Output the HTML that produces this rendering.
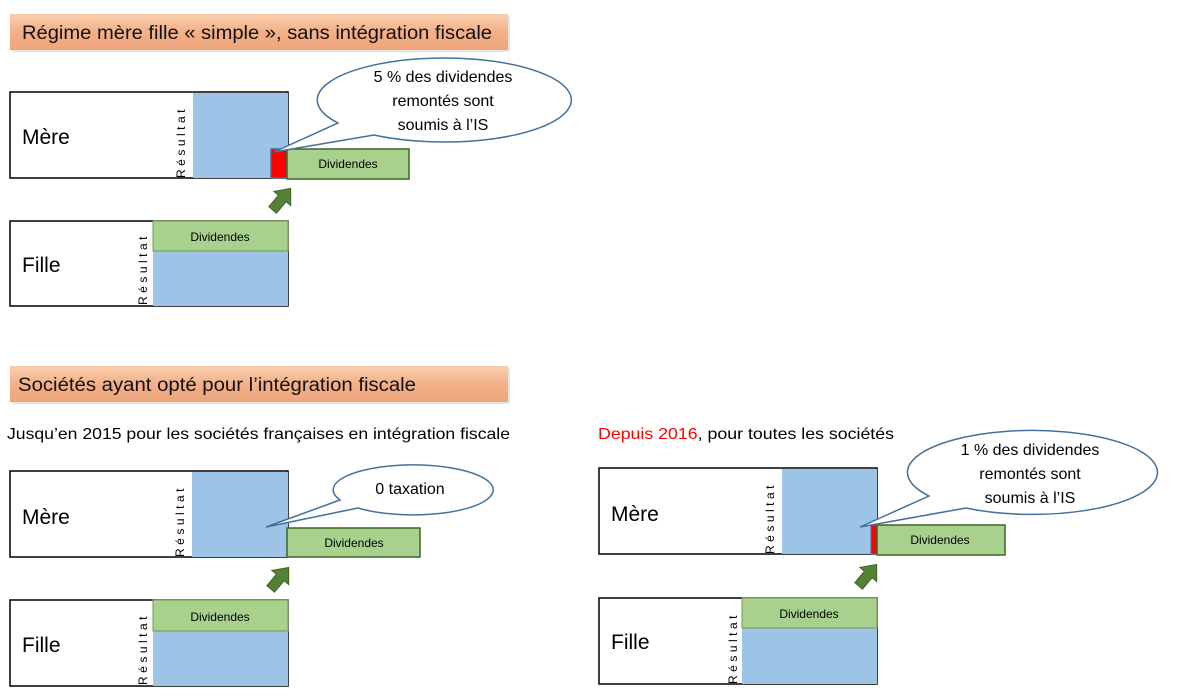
<!DOCTYPE html>
<html><head><meta charset="utf-8"><style>
html,body{margin:0;padding:0;background:#fff;}
svg{display:block;}
text{font-family:"Liberation Sans",sans-serif;}
</style></head><body>
<svg width="1200" height="699" viewBox="0 0 1200 699" xmlns="http://www.w3.org/2000/svg">
<defs>
<linearGradient id="bg" x1="0" y1="0" x2="0" y2="1">
<stop offset="0" stop-color="#f9cfae"/><stop offset="0.5" stop-color="#f3b088"/><stop offset="1" stop-color="#eea57c"/>
</linearGradient>
<g id="arrow">
<path d="M-5,13 L-5,-2 L-11,-2 L0,-15 L11,-2 L5,-2 L5,13 Z" fill="#548235" stroke="#3f6426" stroke-width="1"/>
</g>
</defs>

<!-- Section 1 -->
<rect x="12" y="16" width="498" height="36" fill="#ccc" opacity="0.5"/>
<rect x="10" y="14" width="498" height="36" fill="url(#bg)"/>
<text x="22" y="39" font-size="19" fill="#111" textLength="470" lengthAdjust="spacingAndGlyphs">Régime mère fille « simple », sans intégration fiscale</text>

<rect x="10" y="92" width="278" height="86" fill="#fff" stroke="#000" stroke-width="1.5"/>
<rect x="193" y="93" width="95" height="85" fill="#9dc3e6"/>
<text x="22" y="144" font-size="21">Mère</text>
<text transform="translate(185,178) rotate(-90)" font-size="12" letter-spacing="3.5">Résultat</text>
<rect x="271" y="149" width="16" height="29" fill="#f00" stroke="#41719c" stroke-width="1.5"/>
<rect x="287" y="149" width="122" height="30" fill="#a9d18e" stroke="#3f6426" stroke-width="1.5"/>
<text x="348" y="168" font-size="12" text-anchor="middle">Dividendes</text>
<use href="#arrow" transform="translate(281,200) rotate(40)"/>

<rect x="10" y="221" width="278" height="85" fill="#fff" stroke="#000" stroke-width="1.5"/>
<rect x="153" y="251" width="135" height="55" fill="#9dc3e6"/>
<rect x="153" y="221" width="135" height="30" fill="#a9d18e" stroke="#6e9b4f" stroke-width="1"/>
<text x="220" y="241" font-size="12" text-anchor="middle">Dividendes</text>
<text x="22" y="272" font-size="21">Fille</text>
<text transform="translate(147,305) rotate(-90)" font-size="12" letter-spacing="3.5">Résultat</text>

<path d="M338,123 A127,42 0 1 1 374,135 L274,152 Z" fill="#fff" stroke="#41719c" stroke-width="1.5"/>
<text font-size="16" text-anchor="middle"><tspan x="443" y="82">5 % des dividendes</tspan><tspan x="443" y="106">remontés sont</tspan><tspan x="443" y="130">soumis à l’IS</tspan></text>

<!-- Section 2 -->
<rect x="12" y="368" width="498" height="36" fill="#ccc" opacity="0.5"/>
<rect x="10" y="366" width="498" height="36" fill="url(#bg)"/>
<text x="18" y="391" font-size="19" fill="#111" textLength="398" lengthAdjust="spacingAndGlyphs">Sociétés ayant opté pour l’intégration fiscale</text>
<text x="7" y="439" font-size="16" textLength="503" lengthAdjust="spacingAndGlyphs">Jusqu’en 2015 pour les sociétés françaises en intégration fiscale</text>

<rect x="10" y="471" width="278" height="86" fill="#fff" stroke="#000" stroke-width="1.5"/>
<rect x="192" y="472" width="96" height="85" fill="#9dc3e6"/>
<text x="22" y="524" font-size="21">Mère</text>
<text transform="translate(184,557) rotate(-90)" font-size="12" letter-spacing="3.5">Résultat</text>
<rect x="287" y="528" width="133" height="29" fill="#a9d18e" stroke="#3f6426" stroke-width="1.5"/>
<text x="354" y="547" font-size="12" text-anchor="middle">Dividendes</text>
<use href="#arrow" transform="translate(279,579) rotate(40)"/>

<rect x="10" y="600" width="278" height="86" fill="#fff" stroke="#000" stroke-width="1.5"/>
<rect x="153" y="631" width="135" height="55" fill="#9dc3e6"/>
<rect x="153" y="600" width="135" height="31" fill="#a9d18e" stroke="#6e9b4f" stroke-width="1"/>
<text x="220" y="621" font-size="12" text-anchor="middle">Dividendes</text>
<text x="22" y="652" font-size="21">Fille</text>
<text transform="translate(147,685) rotate(-90)" font-size="12" letter-spacing="3.5">Résultat</text>

<path d="M340,500 A80,25 0 1 1 358,508 L266,527 Z" fill="#fff" stroke="#41719c" stroke-width="1.5"/>
<text x="410" y="494" font-size="16" text-anchor="middle">0 taxation</text>

<!-- Section 3 -->
<text x="598" y="439" font-size="16" textLength="296" lengthAdjust="spacingAndGlyphs"><tspan fill="#f00">Depuis 2016</tspan>, pour toutes les sociétés</text>

<rect x="599" y="468" width="278" height="86" fill="#fff" stroke="#000" stroke-width="1.5"/>
<rect x="782" y="469" width="95" height="85" fill="#9dc3e6"/>
<text x="611" y="521" font-size="21">Mère</text>
<text transform="translate(774,554) rotate(-90)" font-size="12" letter-spacing="3.5">Résultat</text>
<rect x="871" y="525" width="6" height="29" fill="#f00" stroke="#41719c" stroke-width="1"/>
<rect x="877" y="525" width="128" height="30" fill="#a9d18e" stroke="#3f6426" stroke-width="1.5"/>
<text x="940" y="544" font-size="12" text-anchor="middle">Dividendes</text>
<use href="#arrow" transform="translate(867,576) rotate(40)"/>

<rect x="599" y="598" width="278" height="86" fill="#fff" stroke="#000" stroke-width="1.5"/>
<rect x="742" y="628" width="135" height="56" fill="#9dc3e6"/>
<rect x="742" y="598" width="135" height="30" fill="#a9d18e" stroke="#6e9b4f" stroke-width="1"/>
<text x="809" y="618" font-size="12" text-anchor="middle">Dividendes</text>
<text x="611" y="649" font-size="21">Fille</text>
<text transform="translate(737,684) rotate(-90)" font-size="12" letter-spacing="3.5">Résultat</text>

<path d="M929,496 A125,42 0 1 1 966,508 L860,527 Z" fill="#fff" stroke="#41719c" stroke-width="1.5"/>
<text font-size="16" text-anchor="middle"><tspan x="1030" y="455">1 % des dividendes</tspan><tspan x="1030" y="479">remontés sont</tspan><tspan x="1030" y="503">soumis à l’IS</tspan></text>
</svg>
</body></html>
